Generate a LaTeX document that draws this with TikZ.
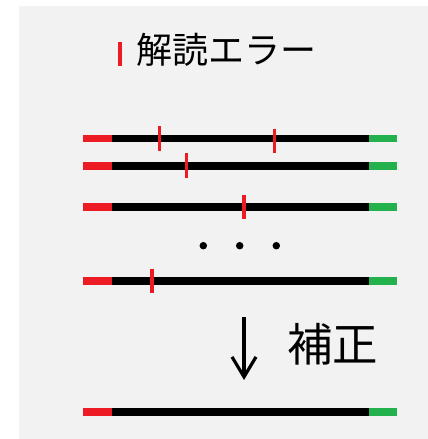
\documentclass[tikz,border=0pt]{standalone}
\usepackage{fontspec}
\newfontfamily\jp{Noto Sans CJK JP}
\usetikzlibrary{arrows.meta}
\definecolor{bgc}{HTML}{F2F2F2}
\definecolor{errred}{HTML}{ED1C24}
\definecolor{okgreen}{HTML}{22B14C}
\tikzset{
  seg/.style={line width=7.3pt},
  tick/.style={errred, line width=3.2pt},
  dotc/.style={circle, fill=black, inner sep=0pt, minimum size=7.5pt},
  lbl/.style={inner sep=0pt, font=\jp}
}
\newcommand{\seqread}[2]{%
  \coordinate (#1a) at (83,#2);
  \coordinate (#1b) at (112,#2);
  \coordinate (#1c) at (369,#2);
  \coordinate (#1d) at (397,#2);
  \draw[seg, errred] (#1a) -- (#1b);
  \draw[seg, black] (#1b) -- (#1c);
  \draw[seg, okgreen] (#1c) -- (#1d);
}
\begin{document}
\begin{tikzpicture}[x=1pt,y=-1pt]
\useasboundingbox (0,0) rectangle (428,439);
\fill[bgc] (19,6) rectangle (428,439);
% legend
\coordinate (lt1) at (120,41.7);
\coordinate (lt2) at (120,65.7);
\draw[tick] (lt1) -- (lt2);
\node[lbl, font=\jp\fontsize{36}{40}\selectfont, anchor=west] (title) at (136.5,49.5) {解読エラー};
% reads
\seqread{r1}{138.7}
\seqread{r2}{166}
\seqread{r3}{207}
\seqread{r4}{281}
\seqread{r5}{412}
% errors
\coordinate (e1t) at (159.3,126); \coordinate (e1b) at (159.3,150.7);
\coordinate (e2t) at (274.3,128.7); \coordinate (e2b) at (274.3,153.3);
\coordinate (e3t) at (186.7,153.3); \coordinate (e3b) at (186.7,178);
\coordinate (e4t) at (244,194.7); \coordinate (e4b) at (244,219.3);
\coordinate (e5t) at (152,268.7); \coordinate (e5b) at (152,293.3);
\foreach \i in {1,...,5} \draw[tick] (e\i t) -- (e\i b);
% dots
\node[dotc] (d1) at (203.3,245.7) {};
\node[dotc] (d2) at (239.7,245.7) {};
\node[dotc] (d3) at (276.3,245.7) {};
% arrow
\coordinate (as) at (244,317.3);
\coordinate (ae) at (244,380);
\draw[line width=3.2pt, -{Straight Barb[length=20pt,width=24pt,line width=3.2pt]}] (as) -- (ae);
\node[lbl, font=\jp\fontsize{45.5}{48}\selectfont, anchor=west] (fix) at (287,344) {補正};
\end{tikzpicture}
\end{document}
